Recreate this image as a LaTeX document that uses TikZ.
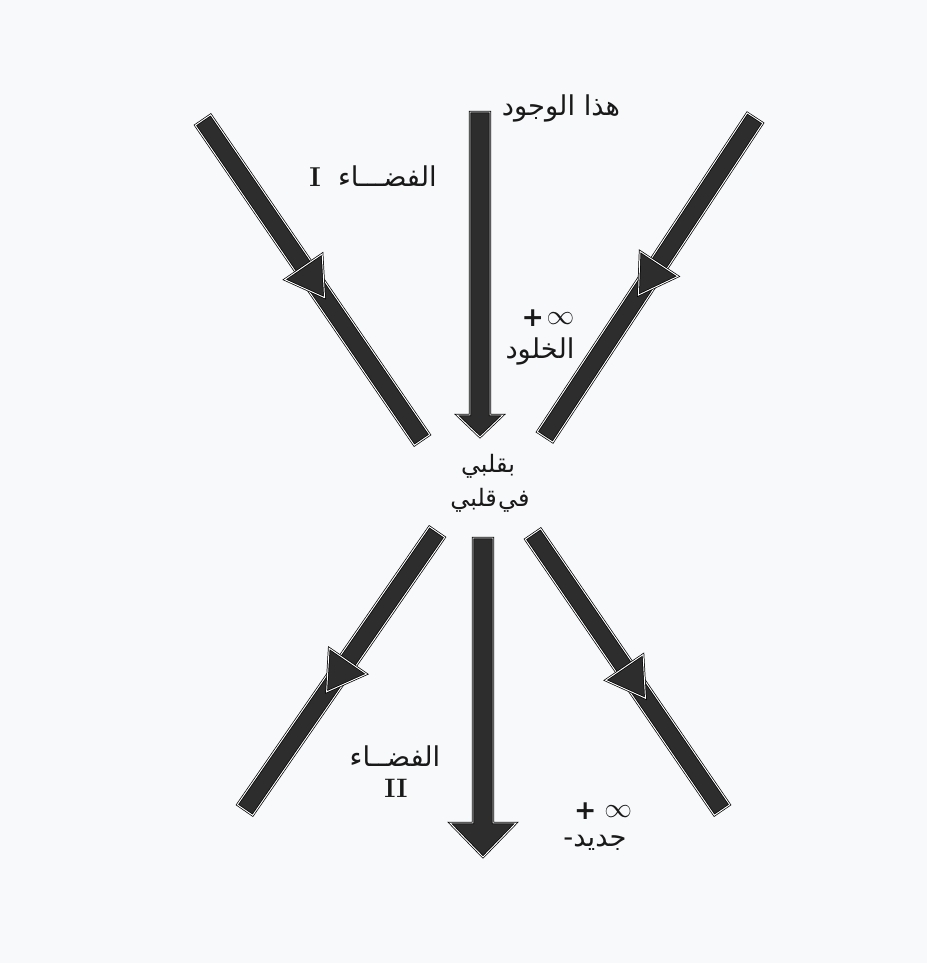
\documentclass[tikz,border=0pt]{standalone}
\usepackage{fontspec}
\usetikzlibrary{calc}
\TeXXeTstate=1
\newfontfamily\arabicfont[Script=Arabic]{DejaVu Sans}
\newfontfamily\symfont{DejaVu Sans}
\definecolor{paper}{RGB}{248,249,251}
\definecolor{barfill}{RGB}{45,45,45}
\tikzset{
  barstyle/.style={fill=barfill, draw=black, line width=0.55pt, double=white, double distance=0.7pt, line join=miter},
  artext/.style={font=\arabicfont\fontsize{20.5}{24}\selectfont, inner sep=0pt, text=black!90},
  smalltext/.style={font=\arabicfont\fontsize{18}{22}\selectfont, inner sep=0pt, text=black!90},
  numtext/.style={font=\fontsize{20}{24}\selectfont, inner sep=0pt, text=black!90},
  symtext/.style={font=\fontsize{20}{24}\selectfont, inner sep=0pt, text=black!90},
}
\newcommand{\mybar}[3]{\draw[barstyle] ($(#1)!#3!90:(#2)$) -- ($(#1)!#3!-90:(#2)$) -- ($(#2)!#3!90:(#1)$) -- ($(#2)!#3!-90:(#1)$) -- cycle;}
\newcommand{\midhead}[4]{%
  \coordinate (#4tip) at ($(#1)!#3!(#2)$);
  \coordinate (#4base) at ($(#4tip)!28pt!(#1)$);
  \draw[barstyle] ($(#4base)!17pt!90:(#4tip)$) -- (#4tip) -- ($(#4base)!17pt!-90:(#4tip)$) -- cycle;}
\newcommand{\plusinf}[1]{{\symfont\bfseries +}\hspace{#1}\raisebox{1.5pt}{$\infty$}}
\begin{document}
\begin{tikzpicture}[x=0.75pt,y=-0.75pt]
\path[fill=paper] (0,0) rectangle (927,963);
\useasboundingbox (0,0) rectangle (927,963);

% coordinates of arrow ends
\coordinate (tlA) at (203,120);  \coordinate (tlB) at (422,440);
\coordinate (trA) at (755,118);  \coordinate (trB) at (545,437);
\coordinate (blA) at (437,532);  \coordinate (blB) at (245,810);
\coordinate (brA) at (533,534);  \coordinate (brB) at (722,810);
\coordinate (ctA) at (480,112);  \coordinate (ctT) at (480,437);
\coordinate (cbA) at (483,538);  \coordinate (cbT) at (483,857);

% diagonal bars
\mybar{tlA}{tlB}{7pt}
\mybar{trA}{trB}{7pt}
\mybar{blA}{blB}{7pt}
\mybar{brA}{brB}{7pt}
\midhead{tlA}{tlB}{0.555}{tl}
\midhead{trA}{trB}{0.555}{tr}
\midhead{blA}{blB}{0.575}{bl}
\midhead{brA}{brB}{0.595}{br}

% central arrows
\draw[barstyle] ($(ctA)+(-10,0)$) -- ($(ctA)+(10,0)$) -- ($(ctT)+(10,-22)$) -- ($(ctT)+(23,-22)$) -- (ctT)
  -- ($(ctT)+(-23,-22)$) -- ($(ctT)+(-10,-22)$) -- cycle;
\draw[barstyle] ($(cbA)+(-10,0)$) -- ($(cbA)+(10,0)$) -- ($(cbT)+(10,-34)$) -- ($(cbT)+(33,-34)$) -- (cbT)
  -- ($(cbT)+(-33,-34)$) -- ($(cbT)+(-10,-34)$) -- cycle;

% texts
\node[artext] (t1) at (561,108) {\beginR هذا الوجود\endR};
\node[artext] (t2) at (373,176) {{\rmfamily\bfseries I}\ \ \beginR الفضـــاء\endR};
\node[symtext] (t3) at (548,318) {\plusinf{2pt}};
\node[artext] (t4) at (540,351) {\beginR الخلود\endR};
\node[smalltext] (t5) at (488,466) {\beginR بقلبي\endR};
\node[smalltext] (t6) at (490,500) {\beginR في\hspace{1pt}قلبي\endR};
\node[artext] (t7) at (395,756) {\beginR الفضــاء\endR};
\node[numtext] (t8) at (396,788) {\rmfamily\bfseries II};
\node[symtext] (t9) at (603,811) {\plusinf{6pt}};
\node[artext] (t10) at (595,843) {\beginR جديد-\endR};
\end{tikzpicture}
\end{document}
